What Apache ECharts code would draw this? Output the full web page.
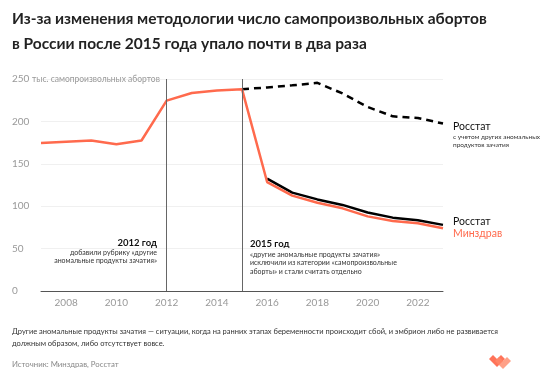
<!DOCTYPE html>
<html><head><meta charset="utf-8">
<script src="https://cdn.jsdelivr.net/npm/echarts@6/dist/echarts.min.js"></script>
<style>html,body{margin:0;padding:0;background:#fff}#c{width:559px;height:380px}</style>
</head><body><div id="c"></div>
<script>
const years = [2007,2008,2009,2010,2011,2012,2013,2014,2015,2016,2017,2018,2019,2020,2021,2022,2023];
const minzdrav = [174.5,176,177.5,173,177.5,224.5,233.5,236.5,238,128.5,112.5,104,97.5,88,82.5,80,74];
const rosstatTotalYears = [2015,2016,2017,2018,2019,2020,2021,2022,2023];
const rosstatTotal = [238,240,242.5,245.5,233,217,206,204,197.5];
const rosstatYears = [2016,2017,2018,2019,2020,2021,2022,2023];
const rosstat = [132.5,116,108,101.5,92.5,86.5,83.5,78];
const yTicks = [0,50,100,150,200,250];
const markYears = [2012,2015];

const ORANGE = '#ff6a4d';
const FONT = 'Lato, "Noto Sans", sans-serif';
const chart = echarts.init(document.getElementById('c'), null, {renderer:'canvas'});
const zip = (xs, ys) => xs.map((x,i)=>[x, ys[i]]);

chart.setOption({
  animation:false,
  textStyle:{fontFamily:FONT},
  grid:{left:41,right:116,top:79,bottom:89},
  xAxis:{type:'value',min:2007,max:2023,interval:1,
    axisLine:{lineStyle:{color:'#555',width:1}},
    axisTick:{show:false},splitLine:{show:false},
    axisLabel:{color:'#999',fontSize:10,margin:7,fontFamily:FONT,
      formatter:v=> (v%2===0 ? String(v) : '')}},
  yAxis:{type:'value',min:0,max:250,interval:50,
    axisLine:{show:false},axisTick:{show:false},
    splitLine:{lineStyle:{color:'#f0f0f0',width:1}},
    axisLabel:{color:'#999',fontSize:10,align:'left',margin:29,fontFamily:FONT,
      formatter:v=> v===250 ? '250 {s|тыс. самопроизвольных абортов}' : String(v),
      rich:{s:{fontSize:8.5,color:'#999',fontFamily:FONT}}}},
  series:[
    {type:'line',data:zip(years,minzdrav),symbol:'none',
      lineStyle:{color:ORANGE,width:2.5},z:3,
      endLabel:{show:true,formatter:'Минздрав',color:ORANGE,fontSize:10.5,offset:[2,5],fontFamily:FONT},
      markLine:{symbol:'none',silent:true,label:{show:false},
        lineStyle:{color:'#666',width:1,type:'solid'},
        data:markYears.map(y=>({xAxis:y}))}},
    {type:'line',data:zip(rosstatYears,rosstat),symbol:'none',
      lineStyle:{color:'#000',width:2.5},z:2,
      endLabel:{show:true,formatter:'Росстат',color:'#111',fontSize:10.5,offset:[2,-3],fontFamily:FONT}},
    {type:'line',data:zip(rosstatTotalYears,rosstatTotal),symbol:'none',
      lineStyle:{color:'#000',width:2.5,type:[7,5]},z:2,
      endLabel:{show:true,offset:[2,11],fontFamily:FONT,
        formatter:'{a|Росстат}\n{b|с учетом других аномальных}\n{b|продуктов зачатия}',
        rich:{a:{fontSize:10.5,color:'#111',lineHeight:13,fontFamily:FONT},
              b:{fontSize:6.5,color:'#333',lineHeight:8,fontFamily:FONT}}}}
  ],
  graphic:[
    {type:'text',left:12,top:6,style:{text:'Из-за изменения методологии число самопроизвольных абортов\nв России после 2015 года упало почти в два раза',
      font:'bold 15.5px '+FONT,fill:'#222',lineHeight:25}},
    {type:'text',x:157,y:238,style:{text:'2012 год',font:'bold 9.5px '+FONT,fill:'#111',align:'right'}},
    {type:'text',x:157,y:249,style:{text:'добавили рубрику «другие\nаномальные продукты зачатия»',font:'7px '+FONT,fill:'#333',align:'right',lineHeight:8}},
    {type:'text',x:250,y:239,style:{text:'2015 год',font:'bold 9.5px '+FONT,fill:'#111'}},
    {type:'text',x:250,y:250,style:{text:'«другие аномальные продукты зачатия»\nисключили из категории «самопроизвольные\nаборты» и стали считать отдельно',font:'7px '+FONT,fill:'#333',lineHeight:8.5}},
    {type:'text',x:12,y:326,style:{text:'Другие аномальные продукты зачатия — ситуации, когда на ранних этапах беременности происходит сбой, и эмбрион либо не развивается\nдолжным образом, либо отсутствует вовсе.',
      font:'7.5px '+FONT,fill:'#333',lineHeight:11.5}},
    {type:'text',x:12,y:360,style:{text:'Источник: Минздрав, Росстат',font:'7.8px '+FONT,fill:'#888'}},
    {type:'polygon',shape:{points:[[489,359],[493,355],[497,359],[501,355],[505,359],[497,367]]},style:{fill:'#ff5a3c',opacity:0.85}},
    {type:'polygon',shape:{points:[[495,361],[499,357],[503,361],[507,357],[511,361],[503,369]]},style:{fill:'#ff8a6a',opacity:0.8}}
  ]
});
</script></body></html>
